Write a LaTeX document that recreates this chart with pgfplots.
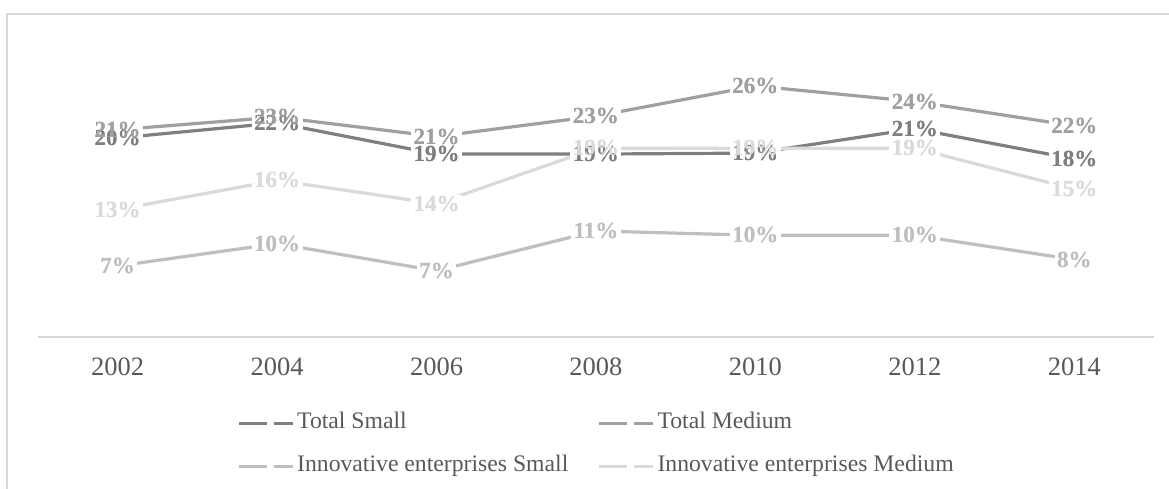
\documentclass[border=0pt]{standalone}
\usepackage{fontspec}
\setmainfont{Liberation Serif}
\usepackage{pgfplots}
\usepackage{pgfplotstable}
\pgfplotsset{compat=1.18}

\definecolor{cTS}{HTML}{7F7F7F}
\definecolor{cTM}{HTML}{A0A0A0}
\definecolor{cIS}{HTML}{BFBFBF}
\definecolor{cIM}{HTML}{DADADA}
\definecolor{cFrame}{HTML}{D9D9D9}
\definecolor{cText}{HTML}{595959}

% share of enterprises, 2002-2014 (x = 0..6)
\pgfplotstableread{
x ts tm is im
0 20.45 21.3 7.3 13.1
1 22.0 22.6 9.6 16.1
2 18.8 20.6 6.8 13.7
3 18.8 22.7 10.9 19.4
4 18.9 25.8 10.45 19.4
5 21.4 24.2 10.45 19.4
6 18.3 21.7 7.96 15.2
}\shares

\pgfplotsset{
  lab/.style={draw=none, forget plot,
    nodes near coords={\pgfmathprintnumber[fixed,precision=0,assume math mode=true]{\pgfplotspointmeta}\%},
    nodes near coords align=center,
    every node near coord/.append style={font=\bfseries\fontsize{23bp}{27bp}\selectfont,
      text=#1, inner xsep=2.5bp, inner ysep=1bp}},
  labbox/.style={lab=#1, every node near coord/.append style={fill=white}},
}

\begin{document}
\begin{tikzpicture}[x=1bp,y=1bp]
\useasboundingbox (0,0) rectangle (1169,489);
\draw[cFrame, line width=1.3bp] (7,-5) -- (7,475) -- (1175,475);
\begin{axis}[
  at={(38bp,152bp)}, anchor=south west,
  scale only axis, width=1116bp, height=291.9bp,
  xmin=-0.5, xmax=6.5, ymin=0, ymax=30,
  axis x line=bottom, axis y line=none,
  axis line style={-, draw=cFrame, line width=1.5bp},
  xtick={0,...,6},
  xticklabels={2002,2004,2006,2008,2010,2012,2014},
  major tick length=0pt, ytick=\empty,
  xticklabel style={anchor=center, yshift=-30bp, text=cText,
    font=\fontsize{26.5bp}{30bp}\selectfont},
  clip=false, no marks,
  legend columns=2, legend cell align=left,
  legend image code/.code={\draw[#1, dash pattern=on 28bp off 7bp on 19bp off 50bp] (0bp,0bp) -- (54bp,0bp);},
  legend style={at={(0.1783,-0.370)}, anchor=west, draw=none, fill=none,
    inner sep=0pt, outer sep=0pt, text=cText,
    font=\fontsize{23.7bp}{28bp}\selectfont, row sep=22bp,
    nodes={inner sep=0pt, text height=16bp, text depth=5bp},
    /tikz/every odd column/.append style={column sep=3bp},
    /tikz/every even column/.append style={column sep=29bp}},
]
\addplot[cTS, line width=3.2bp, line join=round] table[x=x, y=ts] {\shares};
\addlegendentry{Total Small}
\addplot[cTM, line width=3.2bp, line join=round] table[x=x, y=tm] {\shares};
\addlegendentry{Total Medium}
\addplot[cIS, line width=3.2bp, line join=round] table[x=x, y=is] {\shares};
\addlegendentry{Innovative enterprises Small}
\addplot[cIM, line width=3.2bp, line join=round] table[x=x, y=im] {\shares};
\addlegendentry{Innovative enterprises Medium}

% white boxes behind the labels, then the labels themselves
\addplot[labbox=cTS] table[x=x, y=ts] {\shares};
\addplot[labbox=cTM] table[x=x, y=tm] {\shares};
\addplot[labbox=cIS] table[x=x, y=is] {\shares};
\addplot[labbox=cIM] table[x=x, y=im] {\shares};
\addplot[lab=cTS] table[x=x, y=ts] {\shares};
\addplot[lab=cTM] table[x=x, y=tm] {\shares};
\addplot[lab=cIS] table[x=x, y=is] {\shares};
\addplot[lab=cIM] table[x=x, y=im] {\shares};
\end{axis}
\end{tikzpicture}
\end{document}
